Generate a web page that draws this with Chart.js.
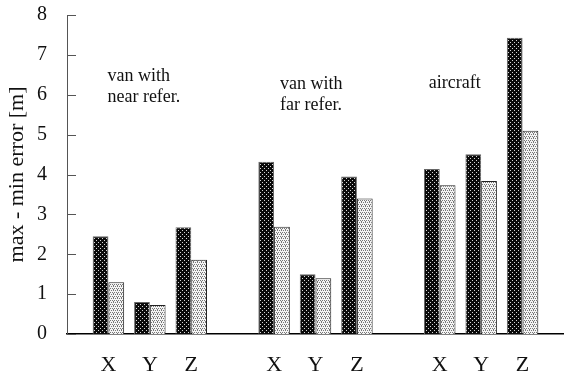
<!DOCTYPE html>
<html>
<head>
<meta charset="utf-8">
<script src="https://cdn.jsdelivr.net/npm/chart.js@4/dist/chart.umd.min.js"></script>
<style>
  html, body { margin: 0; padding: 0; background: #fff; }
  #wrap { width: 564px; height: 377px; }
</style>
</head>
<body>
<div id="wrap"><canvas id="c" width="564" height="377"></canvas></div>
<script>
// Coordinate axes measured in each scenario
const axisNames = ['X', 'Y', 'Z'];
// Scenario captions (one entry per group of three axes)
const scenarioCaptions = [['van with', 'near refer.'], ['van with', 'far refer.'], ['aircraft']];
// max - min error [m], first series (dark stipple)
const errorSeriesA = [2.45, 0.80, 2.68, 4.32, 1.50, 3.95, 4.14, 4.51, 7.43];
// max - min error [m], second series (light stipple)
const errorSeriesB = [1.30, 0.73, 1.86, 2.69, 1.40, 3.40, 3.73, 3.84, 5.10];
// value axis ticks
const yTicks = [0, 1, 2, 3, 4, 5, 6, 7, 8];

// Lay out groups of three axes separated by an empty slot, with empty slots at both ends
const labels = [''];
const dataA = [null];
const dataB = [null];
scenarioCaptions.forEach((_, g) => {
  axisNames.forEach((name, i) => {
    labels.push(name);
    dataA.push(errorSeriesA[g * 3 + i]);
    dataB.push(errorSeriesB[g * 3 + i]);
  });
  labels.push('');
  dataA.push(null);
  dataB.push(null);
});

// Stipple fills
function stipple(bg, dot, cells, size) {
  const c = document.createElement('canvas');
  c.width = size; c.height = size;
  const g = c.getContext('2d');
  g.fillStyle = bg; g.fillRect(0, 0, size, size);
  g.fillStyle = dot;
  cells.forEach(([x, y]) => g.fillRect(x, y, 1, 1));
  return g.createPattern(c, 'repeat');
}
const darkFill = stipple('#0a0a0a', '#d8d8d8', [[0, 0], [2, 2]], 4);
const lightFill = stipple('#f4f4f4', '#777', [[0, 0], [2, 0], [1, 2], [3, 2], [1, 1]], 4);

const serif = "'Liberation Serif', 'Times New Roman', serif";

function pinBox(size, key) {
  return s => {
    s[key] = size;
    s.paddingTop = 0; s.paddingBottom = 0; s.paddingLeft = 0; s.paddingRight = 0;
  };
}

// Inward tick marks on the value axis and the scenario captions
const decorations = {
  id: 'decorations',
  afterDraw(chart) {
    const { ctx, scales: { x, y } } = chart;
    ctx.save();
    ctx.strokeStyle = '#555';
    ctx.lineWidth = 1;
    yTicks.forEach(v => {
      const py = Math.round(y.getPixelForValue(v)) + 0.5;
      ctx.beginPath();
      ctx.moveTo(x.left, py);
      ctx.lineTo(x.left + 9, py);
      ctx.stroke();
    });
    // caption anchors: [category index, left offset in px, value of first line]
    const anchors = [[1, -1, 6.47], [5, 6, 6.27], [9, -11, 6.29]];
    ctx.fillStyle = '#111';
    ctx.font = '18px ' + serif;
    ctx.textAlign = 'left';
    ctx.textBaseline = 'middle';
    scenarioCaptions.forEach((lines, i) => {
      const [idx, dx, v] = anchors[i];
      const px = x.getPixelForValue(idx) + dx;
      const py = y.getPixelForValue(v);
      lines.forEach((t, k) => ctx.fillText(t, px, py + k * 21));
    });
    ctx.restore();
  }
};

new Chart(document.getElementById('c'), {
  type: 'bar',
  data: {
    labels,
    datasets: [
      { data: dataA, backgroundColor: darkFill, borderColor: '#666', borderWidth: 1 },
      { data: dataB, backgroundColor: lightFill, borderColor: '#222', borderWidth: 1 }
    ]
  },
  options: {
    responsive: false,
    animation: false,
    categoryPercentage: 0.76,
    barPercentage: 1.0,
    layout: { padding: { top: 15, right: 0, left: 0, bottom: 0 } },
    plugins: { legend: { display: false }, tooltip: { enabled: false } },
    scales: {
      x: {
        type: 'category',
        offset: false,
        grid: { display: false, drawTicks: false },
        border: { display: true, color: '#000', width: 1.5 },
        ticks: {
          autoSkip: false, maxRotation: 0, padding: 18,
          color: '#111', font: { family: serif, size: 22 }
        },
        afterFit: pinBox(43, 'height')
      },
      y: {
        min: 0, max: 8,
        grid: { display: false, drawTicks: false },
        border: { display: true, color: '#555', width: 1 },
        afterBuildTicks(s) { s.ticks = yTicks.map(v => ({ value: v })); },
        ticks: { padding: 20, color: '#111', font: { family: serif, size: 20 } },
        title: {
          display: true, text: 'max - min error [m]', color: '#111',
          font: { family: serif, size: 22 }, padding: { top: 4, bottom: 0 }
        },
        afterFit: pinBox(67, 'width')
      }
    }
  },
  plugins: [decorations]
});
</script>
</body>
</html>
